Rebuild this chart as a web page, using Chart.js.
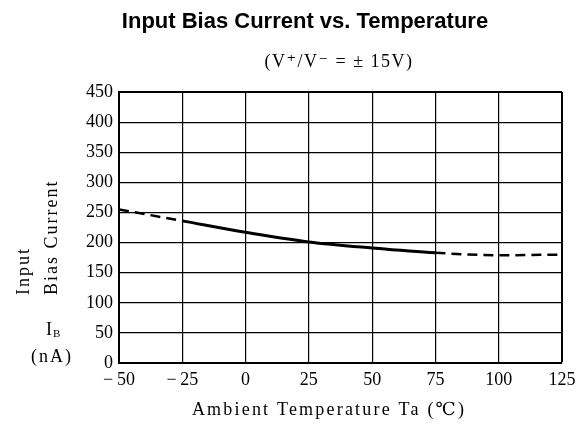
<!DOCTYPE html>
<html>
<head>
<meta charset="utf-8">
<script src="https://cdn.jsdelivr.net/npm/chart.js@4.4.0/dist/chart.umd.min.js"></script>
<style>
  html, body { margin: 0; padding: 0; background: #fff; }
  #wrap { width: 583px; height: 434px; }
</style>
</head>
<body>
<div id="wrap"><canvas id="biasChart" width="583" height="434"></canvas></div>
<script>
// valores
var temperaturas = [-50, -25, 0, 25, 50, 75, 100, 125];
var corrienteBias = [255, 236, 217, 201, 191, 183, 179, 180];
var ticksY = [0, 50, 100, 150, 200, 250, 300, 350, 400, 450];
// tramo medido (linea continua), fuera de el va a trazos
var tramoMedido = [-25, 75];

var serif = '"Liberation Serif", "DejaVu Serif", serif';

var puntos = temperaturas.map(function(t, i) { return { x: t, y: corrienteBias[i] }; });

function fueraDeTramo(ctx) {
    var x0 = ctx.p0.parsed.x;
    return x0 < tramoMedido[0] || x0 >= tramoMedido[1];
}

var textos = {
    id: 'textos',
    afterDraw: function(chart) {
        var c = chart.ctx;
        c.save();
        c.fillStyle = '#000';
        c.letterSpacing = '0px';
        c.font = 'bold 22px "Liberation Sans", Arial, sans-serif';
        c.textAlign = 'center';
        c.textBaseline = 'middle';
        c.fillText('Input Bias Current vs. Temperature', 305, 22);

        c.letterSpacing = '1.5px';
        c.font = '18px ' + serif;
        c.fillText('(V\u207A/V\u207B = \u00B1 15V)', 339, 62);

        c.letterSpacing = '2.2px';
        c.font = '18px ' + serif;
        c.fillText('Ambient Temperature Ta (\u2103)', 329, 410);

        // etiqueta del eje Y
        c.letterSpacing = '2px';
        c.save();
        c.translate(24, 295);
        c.rotate(-Math.PI / 2);
        c.textAlign = 'left';
        c.fillText('Input', 0, 0);
        c.restore();
        c.save();
        c.translate(52, 295);
        c.rotate(-Math.PI / 2);
        c.textAlign = 'left';
        c.fillText('Bias Current', 0, 0);
        c.restore();

        c.textAlign = 'left';
        c.fillText('I', 46, 330);
        c.font = '11px ' + serif;
        c.fillText('B', 53, 334);
        c.font = '18px ' + serif;
        c.fillText('(nA)', 31, 357);
        c.restore();
    }
};

var ctx = document.getElementById('biasChart').getContext('2d');
var biasChart = new Chart(ctx, {
    type: 'line',
    data: {
        datasets: [{
            data: puntos,
            borderColor: '#000',
            borderWidth: 3,
            pointRadius: 0,
            fill: false,
            cubicInterpolationMode: 'monotone',
            segment: {
                borderDash: function(ctx) { return fueraDeTramo(ctx) ? [10, 6] : undefined; },
                borderWidth: function(ctx) { return fueraDeTramo(ctx) ? 2.5 : 3; }
            }
        }]
    },
    options: {
        responsive: false,
        animation: false,
        layout: { padding: { top: 92, right: 21, left: 0, bottom: 0 } },
        plugins: {
            legend: { display: false },
            tooltip: { enabled: false }
        },
        scales: {
            x: {
                type: 'linear',
                min: -50,
                max: 125,
                afterBuildTicks: function(scale) {
                    scale.ticks = temperaturas.map(function(v) { return { value: v }; });
                },
                afterFit: function(scale) { scale.height = 71; },
                grid: {
                    color: '#000',
                    lineWidth: function(c) { return c.tick && c.tick.value === 125 ? 2 : 1.2; },
                    drawTicks: false
                },
                border: { color: '#000', width: 2 },
                ticks: {
                    color: '#000',
                    padding: 6,
                    font: { family: serif, size: 18 },
                    callback: function(v) { return v < 0 ? '\u2212\u2009' + Math.abs(v) : String(v); }
                }
            },
            y: {
                min: 0,
                max: 450,
                afterBuildTicks: function(scale) {
                    scale.ticks = ticksY.map(function(v) { return { value: v }; });
                },
                afterFit: function(scale) { scale.width = 119; },
                grid: {
                    color: '#000',
                    lineWidth: function(c) { return c.tick && c.tick.value === 450 ? 2 : 1.2; },
                    drawTicks: false
                },
                border: { color: '#000', width: 2 },
                ticks: {
                    color: '#000',
                    padding: 6,
                    font: { family: serif, size: 18 }
                }
            }
        }
    },
    plugins: [textos]
});
</script>
</body>
</html>
